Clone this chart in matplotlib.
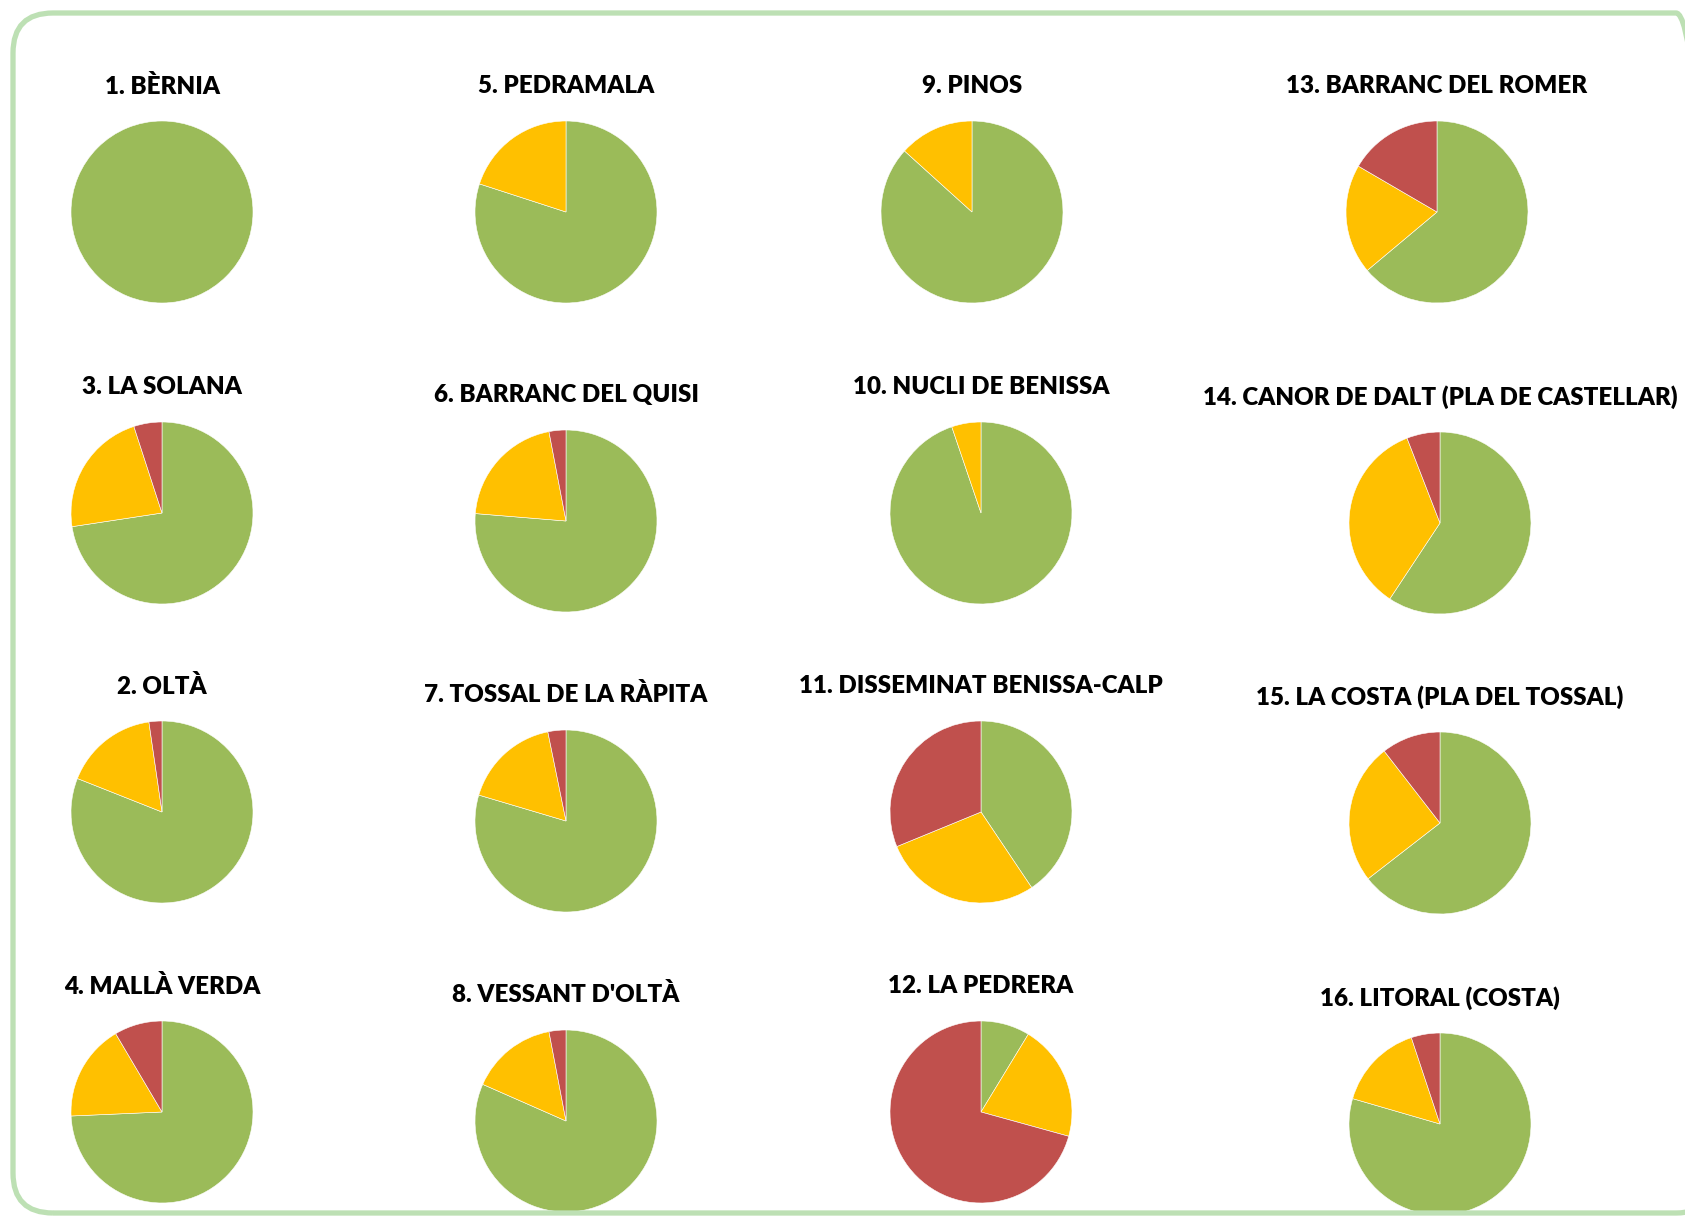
import matplotlib.pyplot as plt
from matplotlib.patches import FancyBboxPatch
from matplotlib.transforms import IdentityTransform

# share of each zone (%) - green / yellow / red, pies 1..16
titles = ["1. BÈRNIA", "2. OLTÀ", "3. LA SOLANA", "4. MALLÀ VERDA",
          "5. PEDRAMALA", "6. BARRANC DEL QUISI", "7. TOSSAL DE LA RÀPITA",
          "8. VESSANT D'OLTÀ", "9. PINOS", "10. NUCLI DE BENISSA",
          "11. DISSEMINAT BENISSA-CALP", "12. LA PEDRERA",
          "13. BARRANC DEL ROMER", "14. CANOR DE DALT (PLA DE CASTELLAR)",
          "15. LA COSTA (PLA DEL TOSSAL)", "16. LITORAL (COSTA)"]
green = [100, 81.0, 72.6, 74.3, 80.0, 76.3, 79.6, 81.6, 86.7, 94.8, 40.6, 8.7, 63.9, 59.3, 64.5, 79.5]
yellow = [0, 16.7, 22.4, 17.2, 20.0, 20.7, 17.2, 15.4, 13.3, 5.2, 28.2, 20.6, 19.5, 34.8, 25.0, 15.4]
red = [0, 2.3, 5.0, 8.5, 0, 3.0, 3.2, 3.0, 0, 0, 31.2, 70.7, 16.6, 5.9, 10.5, 5.1]

colors = ['#9BBB59', '#FFC000', '#C0504D']

# layout (pixel centres of each pie, measured from top-left)
W, H = 1685, 1216
centers = [(162, 212), (162, 812), (162, 513), (162, 1112),
           (566, 212), (566, 521), (566, 821), (566, 1121),
           (972, 212), (981, 513), (981, 812), (981, 1112),
           (1437, 212), (1440, 523), (1440, 823), (1440, 1124)]
R = 91

fig = plt.figure(figsize=(W / 100, H / 100), dpi=100)
fig.patch.set_facecolor('white')

# rounded green frame (right side runs off the picture)
frame = FancyBboxPatch((13, 3), 1703, 1200, boxstyle="round,pad=0,rounding_size=40",
                       transform=IdentityTransform(), facecolor='none',
                       edgecolor='#bde0b4', linewidth=3.8)
fig.add_artist(frame)

for i, t in enumerate(titles):
    cx, cy = centers[i]
    ax = fig.add_axes([(cx - R) / W, 1 - (cy + R) / H, 2 * R / W, 2 * R / H])
    vals = [green[i], yellow[i], red[i]]
    cols = [c for v, c in zip(vals, colors) if v > 0]
    vals = [v for v in vals if v > 0]
    ax.pie(vals, colors=cols, startangle=90, counterclock=False, radius=1,
           wedgeprops=dict(edgecolor='white', linewidth=0.4))
    ax.set_xlim(-1, 1)
    ax.set_ylim(-1, 1)
    ax.set_aspect('equal')
    ax.axis('off')
    fig.text(cx / W, 1 - (cy - 126) / H, t, ha='center', va='center',
             fontsize=17.4, fontweight='heavy', family='Lato', color='black')

fig.savefig('out.png', dpi=100)
